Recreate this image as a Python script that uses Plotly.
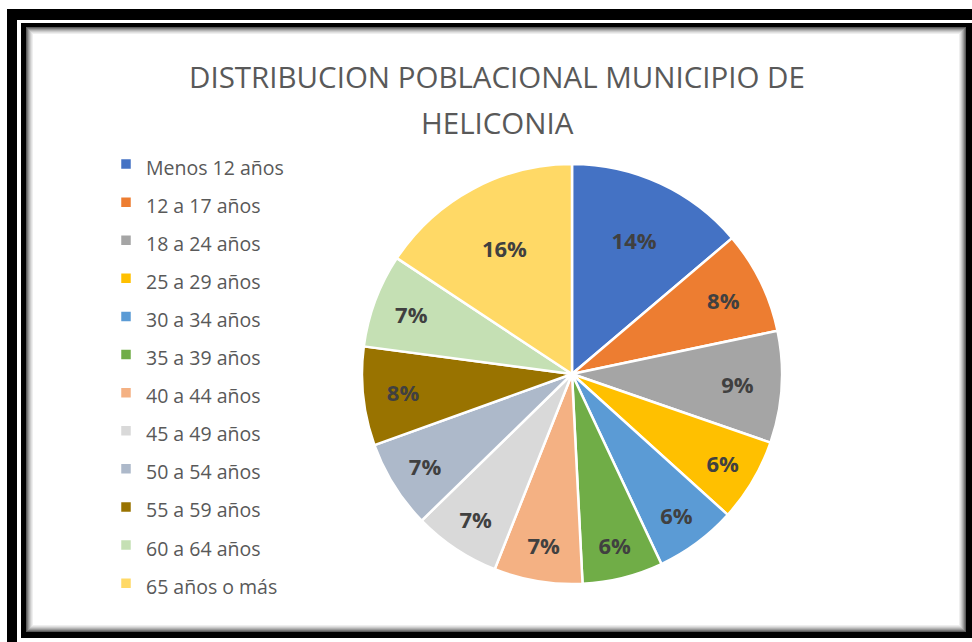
import plotly.graph_objects as go

categories = ["Menos 12 años", "12 a 17 años", "18 a 24 años", "25 a 29 años",
              "30 a 34 años", "35 a 39 años", "40 a 44 años", "45 a 49 años",
              "50 a 54 años", "55 a 59 años", "60 a 64 años", "65 años o más"]
shares = [13.8, 7.9, 8.6, 6.4, 6.3, 6.2, 6.8, 6.7, 6.8, 7.6, 7.2, 15.7]
colors = ["#4472C4", "#ED7D31", "#A5A5A5", "#FFC000", "#5B9BD5", "#70AD47",
          "#F4B183", "#D9D9D9", "#ADB9CA", "#997300", "#C5E0B4", "#FFD966"]
title_lines = ["DISTRIBUCION POBLACIONAL MUNICIPIO DE", "HELICONIA"]

W, H = 972, 642
def px(x): return x / W
def py(y): return 1 - y / H

legend_labels = ['<span style="font-size:19.5px">%s</span>' % c for c in categories]

fig = go.Figure(go.Pie(
    labels=legend_labels,
    values=shares,
    marker=dict(colors=colors, line=dict(color="white", width=2.5)),
    sort=False,
    direction="clockwise",
    rotation=0,
    texttemplate="%{percent:.0%}",
    textposition="inside",
    insidetextorientation="horizontal",
    textfont=dict(family="Open Sans", size=22, color="#404040", weight="bold"),
    domain=dict(x=[px(572 - 210), px(572 + 210)], y=[py(374 + 210), py(374 - 210)]),
    hoverinfo="label+percent",
))

shapes = []
def rect(x0, y0, x1, y1, color):
    shapes.append(dict(type="rect", xref="paper", yref="paper", layer="below",
                       x0=px(x0), x1=px(x1), y0=py(y1), y1=py(y0),
                       fillcolor=color, line=dict(width=0)))

rect(7, 9, 1000, 680, "#000000")
rect(17, 20, 1000, 680, "#ffffff")
rect(21, 23, 1000, 638, "#000000")
shade = ["#5a5a5a", "#7a7a7a", "#999999", "#b4b4b4", "#cccccc", "#e0e0e0", "#efefef", "#ffffff"]
for i, c in enumerate(shade):
    rect(26 + i, 27 + i, 966 - i, 632 - i, c)

annotations = []
for i, line in enumerate(title_lines):
    annotations.append(dict(text=line, x=px(497), y=py(76 + 46 * i), xref="paper", yref="paper",
                            xanchor="center", yanchor="middle", showarrow=False,
                            font=dict(family="Open Sans", size=29.5, color="#595959")))

fig.update_layout(
    width=W, height=H,
    margin=dict(l=0, r=0, t=0, b=0),
    paper_bgcolor="white",
    plot_bgcolor="white",
    shapes=shapes,
    showlegend=True,
    legend=dict(x=px(106), y=py(140), xanchor="left", yanchor="top",
                font=dict(family="Open Sans", size=27, color="#595959"),
                bgcolor="rgba(0,0,0,0)", itemclick=False, itemdoubleclick=False),
    annotations=annotations,
)

fig.write_html("out.html", config={"displayModeBar": False},
               post_script="document.body.style.margin='0';document.body.style.overflow='hidden';")
